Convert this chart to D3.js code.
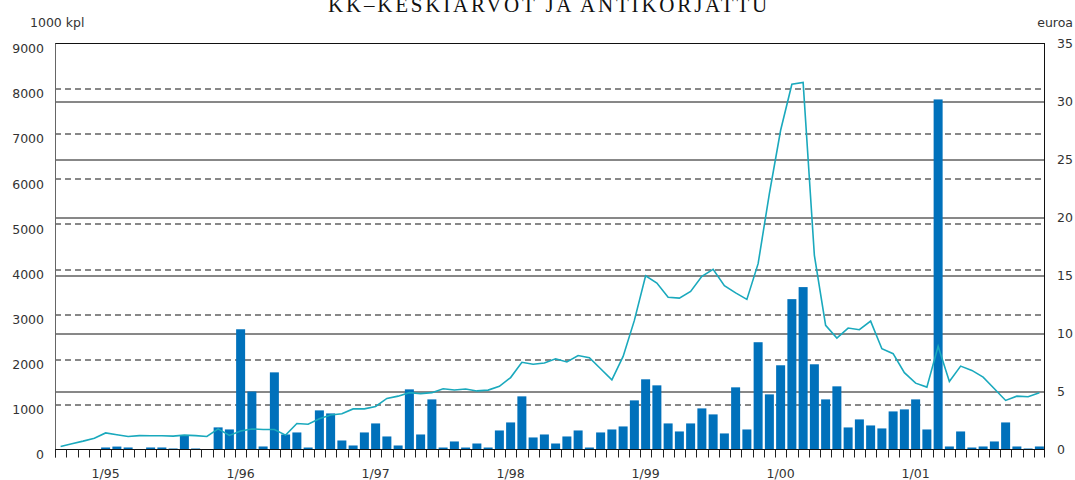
<!DOCTYPE html>
<html>
<head>
<meta charset="utf-8">
<script src="https://cdn.jsdelivr.net/npm/d3@7"></script>
<style>
    body { margin: 0; background: #fff; }
    #chart-area { width: 1075px; height: 480px; }
    .tick-label, .unit-label { font-family: "DejaVu Sans", sans-serif; font-size: 12.5px; fill: #333; }
    .title { font-family: "Liberation Serif", serif; font-size: 21px; letter-spacing: 2.8px; fill: #111; }
</style>
</head>
<body>
<div id="chart-area"></div>
<script>

// months from 9/94 to 12/01
let months = d3.range(88).map(i => {
    let m = (8 + i) % 12 + 1;
    let y = 94 + Math.floor((8 + i) / 12);
    return m + "/" + String(y % 100).padStart(2, "0");
});

let yearLabels = ["1/95", "1/96", "1/97", "1/98", "1/99", "1/00", "1/01"];

// bars, 1000 kpl
let volumes = [
    0, 0, 0, 0, 45, 65, 45, 0, 45, 45, 22, 300,
    22, 0, 490, 445, 2665, 1285, 67, 1710, 333, 378, 44, 867,
    800, 200, 89, 378, 578, 289, 89, 1333, 333, 1111, 44, 178,
    44, 133, 44, 422, 600, 1178, 267, 333, 133, 289, 422, 44,
    378, 444, 511, 1089, 1556, 1422, 578, 400, 578, 911, 778, 356,
    1378, 444, 2378, 1222, 1867, 3333, 3600, 1889, 1111, 1400, 489, 667,
    533, 467, 844, 889, 1111, 444, 7760, 67, 400, 44, 67, 178,
    600, 67, 22, 67
];

// line, euroa
let prices = [
    0.26, 0.5, 0.72, 0.97, 1.43, 1.27, 1.12, 1.2, 1.18, 1.18, 1.15, 1.24,
    1.2, 1.12, 1.78, 1.21, 1.6, 1.77, 1.73, 1.73, 1.24, 2.24, 2.18, 2.65,
    2.97, 3.08, 3.5, 3.5, 3.71, 4.4, 4.6, 4.9, 4.82, 4.9, 5.24, 5.13,
    5.21, 5.05, 5.12, 5.45, 6.2, 7.52, 7.35, 7.46, 7.82, 7.55, 8.1, 7.91,
    6.96, 6.01, 8.02, 11.13, 14.97, 14.35, 13.12, 13.05, 13.63, 14.93, 15.53, 14.12,
    13.5, 12.94, 16.02, 22.06, 27.52, 31.49, 31.64, 16.74, 10.7, 9.6, 10.47, 10.33,
    11.07, 8.69, 8.26, 6.62, 5.72, 5.38, 8.89, 5.87, 7.19, 6.82, 6.24, 5.24,
    4.23, 4.6, 4.55, 4.89
];

let leftTicks = [0, 1000, 2000, 3000, 4000, 5000, 6000, 7000, 8000, 9000];
let rightTicks = [0, 5, 10, 15, 20, 25, 30, 35];


class ComboVis {

    constructor(parentElement) {
        this.parentElement = parentElement;
        this.displayData = months.map((m, i) => ({month: m, volume: volumes[i], price: prices[i]}));
        this.initVis();
    }

    initVis() {
        let vis = this;

        vis.margin = {top: 43.5, right: 30, bottom: 30.5, left: 55};
        vis.width = 1075 - vis.margin.left - vis.margin.right;
        vis.height = 480 - vis.margin.top - vis.margin.bottom;

        vis.svg = d3.select("#" + vis.parentElement).append("svg")
            .attr("width", 1075)
            .attr("height", 480)
            .append("g")
            .attr("transform", `translate(${vis.margin.left}, ${vis.margin.top})`);

        // title, partly outside the top edge
        d3.select("#" + vis.parentElement).select("svg").append("text")
            .attr("class", "title")
            .attr("x", 549)
            .attr("y", 12)
            .attr("text-anchor", "middle")
            .text("KK–KESKIARVOT JA ANTIKORJATTU");

        vis.x = d3.scaleBand()
            .domain(months)
            .range([0, vis.width])
            .paddingInner(0.2)
            .paddingOuter(0.1);

        vis.yLeft = d3.scaleLinear().domain([0, 9000]).range([vis.height, 0]);
        vis.yRight = d3.scaleLinear().domain([0, 35]).range([vis.height, 0]);

        // grid: dashed on left ticks, solid on right ticks
        vis.svg.append("g")
            .selectAll("line")
            .data(leftTicks.filter(d => d > 0 && d < 9000))
            .enter().append("line")
            .attr("x1", 0).attr("x2", vis.width)
            .attr("y1", d => Math.round(vis.yLeft(d)) + 0.5)
            .attr("y2", d => Math.round(vis.yLeft(d)) + 0.5)
            .attr("stroke", "#111")
            .attr("stroke-dasharray", "6,4");

        vis.svg.append("g")
            .selectAll("line")
            .data(rightTicks.filter(d => d > 0 && d < 35))
            .enter().append("line")
            .attr("x1", 0).attr("x2", vis.width)
            .attr("y1", d => Math.round(vis.yRight(d)) + 0.5)
            .attr("y2", d => Math.round(vis.yRight(d)) + 0.5)
            .attr("stroke", "#111");

        // bars
        vis.svg.append("g")
            .selectAll("rect")
            .data(vis.displayData)
            .enter().append("rect")
            .attr("x", d => vis.x(d.month))
            .attr("width", vis.x.bandwidth())
            .attr("y", d => vis.yLeft(d.volume))
            .attr("height", d => vis.height - vis.yLeft(d.volume))
            .attr("fill", "#0071bb");

        // price line
        vis.line = d3.line()
            .x(d => vis.x(d.month) + vis.x.bandwidth() / 2)
            .y(d => vis.yRight(d.price));

        vis.svg.append("path")
            .datum(vis.displayData)
            .attr("d", vis.line)
            .attr("fill", "none")
            .attr("stroke", "#1aa9bd")
            .attr("stroke-width", 1.6);

        // frame
        vis.svg.append("line")
            .attr("x1", 0).attr("x2", vis.width).attr("y1", 0).attr("y2", 0)
            .attr("stroke", "#111");
        vis.svg.append("line")
            .attr("x1", vis.width - 0.5).attr("x2", vis.width - 0.5).attr("y1", 0).attr("y2", vis.height + 8)
            .attr("stroke", "#111");
        vis.svg.append("line")
            .attr("x1", 0.5).attr("x2", 0.5).attr("y1", 0).attr("y2", vis.height + 8)
            .attr("stroke", "#666");
        vis.svg.append("line")
            .attr("x1", 0).attr("x2", vis.width).attr("y1", vis.height).attr("y2", vis.height)
            .attr("stroke", "#111");

        // month ticks at band edges
        let step = vis.x.step();
        vis.svg.append("g")
            .selectAll("line")
            .data(months)
            .enter().append("line")
            .attr("x1", d => Math.round(vis.x(d) - step * 0.1) + 0.5)
            .attr("x2", d => Math.round(vis.x(d) - step * 0.1) + 0.5)
            .attr("y1", vis.height)
            .attr("y2", vis.height + 8)
            .attr("stroke", "#222");

        // axes (labels only)
        vis.xAxis = d3.axisBottom(vis.x)
            .tickValues(yearLabels)
            .tickSize(0)
            .tickPadding(20);

        vis.yAxisLeft = d3.axisLeft(vis.yLeft)
            .tickValues(leftTicks)
            .tickFormat(d3.format("d"))
            .tickSize(0)
            .tickPadding(11);

        vis.yAxisRight = d3.axisRight(vis.yRight)
            .tickValues(rightTicks)
            .tickSize(0)
            .tickPadding(12);

        vis.svg.append("g")
            .attr("class", "x-axis axis")
            .attr("transform", `translate(0, ${vis.height})`)
            .call(vis.xAxis);

        vis.svg.append("g")
            .attr("class", "y-axis axis")
            .call(vis.yAxisLeft);

        vis.svg.append("g")
            .attr("class", "y-axis-right axis")
            .attr("transform", `translate(${vis.width}, 0)`)
            .call(vis.yAxisRight);

        vis.svg.selectAll(".axis .domain").remove();
        vis.svg.selectAll(".axis text")
            .attr("class", "tick-label")
            .attr("font-family", null)
            .attr("font-size", null);
        vis.svg.select(".y-axis").selectAll("text").attr("dy", "0.74em");

        // unit labels
        vis.svg.append("text")
            .attr("class", "unit-label")
            .attr("x", -25)
            .attr("y", -17)
            .text("1000 kpl");

        vis.svg.append("text")
            .attr("class", "unit-label")
            .attr("x", vis.width + 28)
            .attr("y", -17)
            .attr("text-anchor", "end")
            .text("euroa");
    }
}

new ComboVis("chart-area");

</script>
</body>
</html>
